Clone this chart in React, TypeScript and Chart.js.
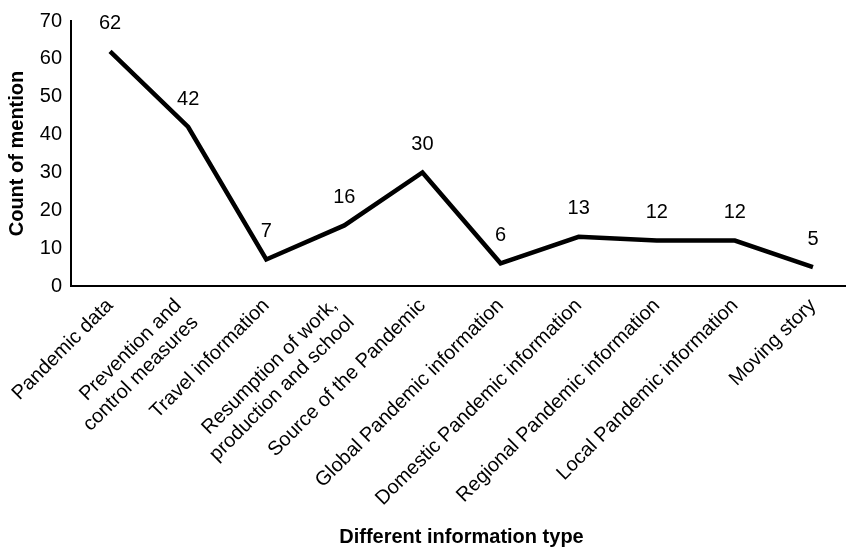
import React, { useEffect, useRef } from "react";
import { Chart, registerables } from "chart.js";

Chart.register(...registerables);

const categories: (string | string[])[] = [
  "Pandemic data",
  ["Prevention and", "control measures"],
  "Travel information",
  ["Resumption of work,", "production and school"],
  "Source of the Pandemic",
  "Global Pandemic information",
  "Domestic Pandemic information",
  "Regional Pandemic information",
  "Local Pandemic information",
  "Moving story",
];
const mentions = [62, 42, 7, 16, 30, 6, 13, 12, 12, 5];
const yTickValues = [0, 10, 20, 30, 40, 50, 60, 70];

const FONT = "'Liberation Sans', Arial, sans-serif";

const valueLabels = {
  id: "valueLabels",
  afterDatasetsDraw(chart: any) {
    const ctx = chart.ctx;
    const meta = chart.getDatasetMeta(0);
    ctx.save();
    ctx.font = `20px ${FONT}`;
    ctx.fillStyle = "#000";
    ctx.textAlign = "center";
    ctx.textBaseline = "middle";
    meta.data.forEach((pt: any, i: number) => {
      ctx.fillText(String(mentions[i]), pt.x, pt.y - 28);
    });
    ctx.restore();
  },
};

// centre multi-line rotated tick labels a little on their tick
const multiLineShift = {
  id: "multiLineShift",
  beforeDraw(chart: any) {
    const s = chart.scales.x;
    if (!s || !s.getLabelItems) return;
    const items = s.getLabelItems(chart.chartArea);
    items.forEach((it: any) => {
      if (Array.isArray(it.label) && it.label.length > 1 && !it.__shifted) {
        it.options.translation = [it.options.translation[0] - 10, it.options.translation[1]];
        it.__shifted = true;
      }
    });
  },
};

export default function App() {
  const ref = useRef<HTMLCanvasElement>(null);
  useEffect(() => {
    if (!ref.current) return;
    const chart = new Chart(ref.current, {
      type: "line",
      data: {
        labels: categories as any,
        datasets: [
          {
            data: mentions,
            borderColor: "#000",
            borderWidth: 4.5,
            pointRadius: 0,
            tension: 0,
            borderJoinStyle: "miter",
            fill: false,
          },
        ],
      },
      options: {
        animation: false,
        responsive: true,
        maintainAspectRatio: false,
        layout: { padding: { top: 20, left: 0, right: 0, bottom: 0 } },
        plugins: { legend: { display: false }, tooltip: { enabled: false } },
        scales: {
          x: {
            type: "category",
            offset: true,
            grid: { display: false, drawTicks: false },
            border: { display: true, color: "#000", width: 2 },
            ticks: {
              autoSkip: false,
              minRotation: 45,
              maxRotation: 45,
              padding: 8,
              color: "#000",
              font: { family: FONT, size: 20 },
            },
            title: {
              display: true,
              text: "Different information type",
              color: "#000",
              font: { family: FONT, size: 20, weight: "bold" },
              padding: { top: 0, bottom: 4 },
            },
            afterFit: (s: any) => {
              s.height = 267;
            },
          },
          y: {
            min: 0,
            max: 70,
            afterBuildTicks: (s: any) => {
              s.ticks = yTickValues.map((v) => ({ value: v }));
            },
            grid: { display: false, drawTicks: false },
            border: { display: true, color: "#000", width: 2 },
            ticks: {
              padding: 9,
              color: "#000",
              font: { family: FONT, size: 20 },
            },
            title: {
              display: true,
              text: "Count of mention",
              color: "#000",
              font: { family: FONT, size: 20, weight: "bold" },
              padding: { top: 5, bottom: 0 },
            },
            afterFit: (s: any) => {
              s.width = 71;
            },
          },
        },
      },
      plugins: [valueLabels, multiLineShift],
    });
    return () => chart.destroy();
  }, []);
  return (
    <div style={{ position: "fixed", left: 0, top: 0, width: 852, height: 553, background: "#fff" }}>
      <canvas ref={ref} />
    </div>
  );
}
